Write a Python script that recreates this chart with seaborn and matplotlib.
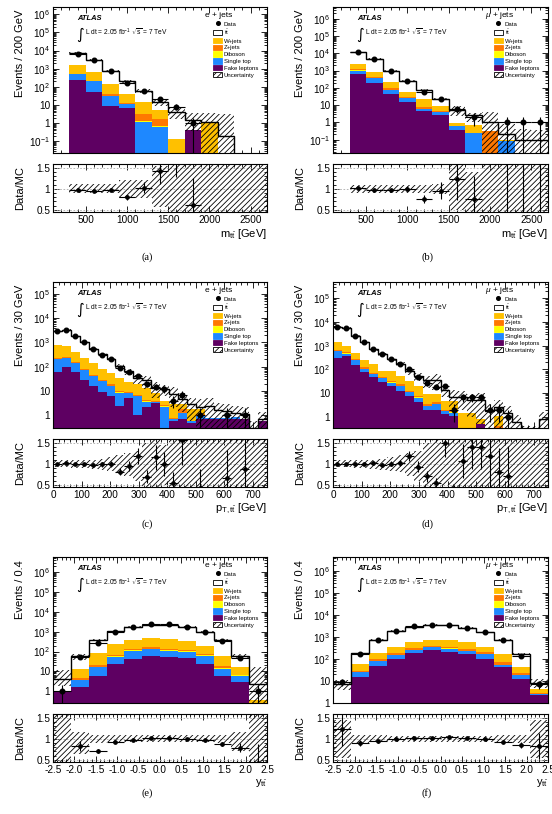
import numpy as np
import pandas as pd
import matplotlib
matplotlib.use("Agg")
import matplotlib.pyplot as plt
import matplotlib.ticker as mticker
from matplotlib.patches import Patch
from matplotlib.lines import Line2D
import seaborn as sns

sns.set_style("ticks")
plt.rcParams["font.family"] = ["Liberation Sans", "DejaVu Sans"]
plt.rcParams["mathtext.fontset"] = "custom"
plt.rcParams["mathtext.rm"] = "Liberation Sans"
plt.rcParams["mathtext.it"] = "Liberation Sans:italic"
plt.rcParams["mathtext.bf"] = "Liberation Sans:bold"
plt.rcParams["axes.edgecolor"] = "black"
plt.rcParams["axes.unicode_minus"] = False
plt.rcParams["xtick.color"] = "black"
plt.rcParams["ytick.color"] = "black"
plt.rcParams["text.color"] = "black"
plt.rcParams["hatch.linewidth"] = 0.6

# ---------------- processes ----------------
PROCS = ["tt", "W+jets", "Z+jets", "Diboson", "Single top", "Fake leptons"]
PROC_LABELS = [r"t$\bar{\mathrm{t}}$", "W+jets", "Z+jets", "Diboson", "Single top", "Fake leptons"]
PROC_COLORS = ["#FFFFFF", "#FFC000", "#FF7800", "#FFFF00", "#1E88FF", "#5E0062"]

# ---------------- (a) e+jets, m_tt ----------------
a_edges = [300, 500, 700, 900, 1100, 1300, 1500, 1700, 1900, 2100, 2300, 2500, 2700]
a_tt = [5400, 2450, 600, 167, 46, 9.5, 3.9, 1.2, 0.1, 0.2, 0, 0]
a_wjets = [1170, 430, 112, 25, 11, 3.6, 0.14, 0, 1.1, 0, 0, 0]
a_zjets = [40, 15, 7, 2, 1.9, 1.0, 0, 0, 0, 0, 0, 0]
a_diboson = [5, 2, 0.5, 0.2, 0.1, 0.05, 0, 0, 0, 0, 0, 0]
a_stop = [255, 150, 22, 4.4, 1.2, 0.66, 0, 0, 0, 0, 0, 0]
a_fake = [230, 53, 9.2, 6.6, 0, 0, 0, 0.4, 0, 0, 0, 0]
a_data = [6890, 2945, 735, 164, 62, 21, 8, 1, 0, 0, 0, 0]
a_unc_up = [0.11, 0.11, 0.11, 0.22, 0.22, 0.55, 0.85, 1.2, 1.9, 16.0, 99, 99]
a_unc_dn = [0.11, 0.11, 0.11, 0.22, 0.22, 0.42, 0.6, 0.78, 1.0, 1.0, 1.0, 1.0]

# ---------------- (b) mu+jets, m_tt ----------------
b_edges = [300, 500, 700, 900, 1100, 1300, 1500, 1700, 1900, 2100, 2300, 2500, 2700]
b_tt = [8600, 3630, 770, 196, 53, 14.6, 4.0, 1.9, 0.7, 0.12, 0.1, 0.09]
b_wjets = [1240, 446, 138, 24.7, 15.6, 4.05, 0.27, 0.49, 0, 0.01, 0, 0]
b_zjets = [150, 60, 15, 4, 1.2, 0.5, 0.05, 0, 0.3, 0, 0, 0]
b_diboson = [10, 4, 1, 0.3, 0.1, 0.05, 0, 0, 0, 0, 0, 0]
b_stop = [360, 175, 31, 9, 1.4, 1.0, 0.23, 0.24, 0, 0.08, 0, 0]
b_fake = [640, 185, 45, 16, 4.7, 2.8, 0.35, 0, 0, 0, 0, 0]
b_data = [11200, 4400, 960, 250, 58, 22, 6, 2, 0, 1, 1, 1]
b_unc_up = [0.1, 0.1, 0.1, 0.1, 0.1, 0.12, 0.7, 0.4, 3.0, 3.0, 3.0, 3.0]
b_unc_dn = [0.1, 0.1, 0.1, 0.1, 0.1, 0.12, 0.5, 0.6, 1.0, 1.0, 1.0, 1.0]

# ---------------- (c) e+jets, pT_tt ----------------
c_edges = list(np.arange(0, 751, 31.25))
c_tt = [2350, 2550, 1380, 770, 395, 236, 151, 77, 40, 15, 14, 5, 8, 4.6, 1.7, 1.2, 0.4, 1.7, 0.8, 0.7, 0.35, 0.45, 0.3, 0.1]
c_wjets = [520, 450, 270, 150, 90, 55, 35, 25, 15, 12, 9, 4, 1.5, 2, 1, 1.2, 0.8, 0, 0, 0, 0, 0, 0, 0]
c_zjets = [20, 20, 12, 8, 5, 3, 2.5, 1.5, 1, 0.5, 0.4, 0.3, 0.2, 0.1, 0.6, 0, 0.2, 0, 0, 0, 0, 0, 0, 0]
c_diboson = [3, 3, 2, 1, 0.6, 0.4, 0.3, 0.2, 0.1, 0.1, 0.1, 0.05, 0.05, 0, 0, 0, 0, 0, 0, 0, 0, 0, 0, 0]
c_stop = [150, 130, 80, 45, 25, 17, 10, 6, 3, 5, 1.5, 0.3, 2, 0.1, 0.5, 0.1, 0.2, 0.1, 0.1, 0.1, 0.15, 0, 0, 0]
c_fake = [60, 95, 60, 28, 16, 9, 6, 2.5, 5, 1.0, 2.2, 3.3, 0.3, 0.6, 0.7, 0.5, 0.7, 0.7, 0.7, 0.7, 0.7, 0.7, 0, 0.6]
c_data = [3100, 3300, 1780, 1000, 520, 317, 205, 91, 61, 40, 19, 15, 12, 4, 7, 0, 1, 0, 0, 1, 0, 1, 0, 0]
c_unc_up = [0.08, 0.08, 0.09, 0.1, 0.1, 0.12, 0.15, 0.2, 0.25, 0.3, 0.5, 0.9, 0.45, 1.0, 0.9, 0.8, 1.0, 1.0, 1.0, 1.0, 1.0, 1.0, 1.0, 1.0]
c_unc_dn = [0.08, 0.08, 0.09, 0.1, 0.12, 0.15, 0.18, 0.2, 0.3, 0.4, 0.55, 0.6, 0.5, 0.7, 0.7, 0.8, 0.9, 0.9, 0.9, 0.9, 0.9, 0.9, 0.9, 0.9]

# ---------------- (d) mu+jets, pT_tt ----------------
d_edges = list(np.arange(0, 751, 31.25))
d_tt = [4620, 4530, 2200, 1160, 542, 365, 180, 117, 51, 34, 28, 26, 8.7, 2.3, 5.1, 3.5, 4.2, 1.7, 1.4, 1.4, 0.6, 0.2, 0.2, 0.8]
d_wjets = [825, 445, 227, 116, 89, 40.5, 57.6, 31.7, 21, 12.4, 5.4, 4.9, 2.55, 2.65, 1.5, 1.5, 0.3, 0, 0.7, 0, 0, 0, 0, 0]
d_zjets = [60, 50, 30, 15, 8, 5, 4, 3, 2, 1, 0.6, 0.6, 0.3, 0.5, 0, 0, 0, 0, 0.4, 0, 0, 0, 0, 0]
d_diboson = [5, 5, 3, 2, 1, 0.5, 0.4, 0.3, 0.2, 0.1, 0.1, 0.1, 0.05, 0.05, 0, 0, 0, 0, 0, 0, 0, 0, 0, 0]
d_stop = [275, 110, 80, 30, 18, 13, 8, 7.4, 3, 2.1, 0.9, 1.5, 0.4, 0.4, 0, 0, 0, 0, 0, 0, 0, 0, 0, 0]
d_fake = [315, 360, 160, 77, 47, 31, 20, 12.6, 7.7, 4.4, 2, 1.9, 1.3, 1.1, 0, 0, 0.5, 0, 0, 0, 0, 0, 0, 0]
d_data = [6100, 5500, 2700, 1400, 720, 440, 270, 175, 100, 50, 26, 19, 20, 2, 7, 7, 7, 2, 2, 1, 0, 0, 0, 0]
d_unc_up = [0.08, 0.08, 0.09, 0.1, 0.1, 0.12, 0.15, 0.2, 0.25, 0.3, 0.5, 0.9, 0.45, 1.0, 0.9, 0.8, 1.0, 1.0, 1.0, 1.0, 1.0, 1.0, 1.0, 1.0]
d_unc_dn = [0.08, 0.08, 0.09, 0.1, 0.12, 0.15, 0.18, 0.2, 0.3, 0.4, 0.55, 0.6, 0.5, 0.7, 0.7, 0.8, 0.9, 0.9, 0.9, 0.9, 0.9, 0.9, 0.9, 0.9]

# ---------------- (e) e+jets, y_tt ----------------
e_edges = list(np.linspace(-2.5, 2.5, 13))
e_tt = [3.1, 50, 307, 815, 1410, 1830, 1850, 1370, 800, 337, 47, 1.95]
e_wjets = [0, 8.5, 61.5, 175.5, 255, 305, 310, 209, 124.5, 44.5, 9, 0.1]
e_zjets = [0, 0.7, 5, 12, 20, 25, 24, 18, 11, 4, 0.7, 0.05]
e_diboson = [0, 0.1, 0.5, 1.5, 3, 4, 4, 3, 1.5, 0.5, 0.1, 0]
e_stop = [0, 2.0, 9.8, 32, 69, 73, 60, 52, 39, 8.3, 3.2, 0.1]
e_fake = [0.9, 1.7, 6.2, 24, 43, 63, 52, 48, 24, 5.7, 3, 0.1]
e_data = [1, 52, 280, 990, 1760, 2350, 2350, 1680, 960, 350, 50, 1]
e_unc_up = [1.8, 0.15, 0.1, 0.08, 0.08, 0.08, 0.08, 0.08, 0.08, 0.1, 0.15, 6.0]
e_unc_dn = [0.56, 0.37, 0.1, 0.08, 0.08, 0.08, 0.08, 0.08, 0.08, 0.1, 0.3, 1.0]

# ---------------- (f) mu+jets, y_tt ----------------
f_edges = list(np.linspace(-2.5, 2.5, 13))
f_tt = [7.3, 121, 573, 1585, 2336, 2740, 2740, 1986, 1265, 590, 128, 4.1]
f_wjets = [0, 29.7, 87, 175, 308, 360, 360, 325, 163, 99, 18.7, 1.35]
f_zjets = [0, 4, 15, 30, 45, 55, 55, 45, 30, 15, 4, 0.3]
f_diboson = [0, 0.3, 1, 2, 4, 5, 5, 4, 2, 1, 0.3, 0.05]
f_stop = [0, 9.2, 34, 58, 70, 83, 85, 70, 70, 13, 6.7, 0.4]
f_fake = [0, 15.8, 50, 100, 187, 257, 215, 170, 100, 42, 12.3, 2.2]
f_data = [9, 162, 715, 1950, 3040, 3600, 3570, 2680, 1630, 707, 145, 7]
f_unc_up = [0.45, 0.1, 0.08, 0.07, 0.07, 0.07, 0.07, 0.07, 0.07, 0.08, 0.1, 0.45]
f_unc_dn = [0.45, 0.1, 0.08, 0.07, 0.07, 0.07, 0.07, 0.07, 0.07, 0.08, 0.1, 0.45]

PANELS = [
    dict(edges=a_edges, comps=[a_tt, a_wjets, a_zjets, a_diboson, a_stop, a_fake], data=a_data,
         up=a_unc_up, dn=a_unc_dn, ylim=(0.023, 2.5e6), xlim=(100, 2700), xmaj=500, xmin=100,
         chan="e + jets", ylab="Events / 200 GeV", xlab=r"m$_{\mathrm{t\bar{t}}}$ [GeV]", cap="(a)"),
    dict(edges=b_edges, comps=[b_tt, b_wjets, b_zjets, b_diboson, b_stop, b_fake], data=b_data,
         up=b_unc_up, dn=b_unc_dn, ylim=(0.017, 4.7e6), xlim=(100, 2700), xmaj=500, xmin=100,
         chan=r"$\mu$ + jets", ylab="Events / 200 GeV", xlab=r"m$_{\mathrm{t\bar{t}}}$ [GeV]", cap="(b)"),
    dict(edges=c_edges, comps=[c_tt, c_wjets, c_zjets, c_diboson, c_stop, c_fake], data=c_data,
         up=c_unc_up, dn=c_unc_dn, ylim=(0.3, 3.1e5), xlim=(0, 750), xmaj=100, xmin=20,
         chan="e + jets", ylab="Events / 30 GeV", xlab=r"p$_{\mathrm{T,t\bar{t}}}$ [GeV]", cap="(c)"),
    dict(edges=d_edges, comps=[d_tt, d_wjets, d_zjets, d_diboson, d_stop, d_fake], data=d_data,
         up=d_unc_up, dn=d_unc_dn, ylim=(0.34, 4.9e5), xlim=(0, 750), xmaj=100, xmin=20,
         chan=r"$\mu$ + jets", ylab="Events / 30 GeV", xlab=r"p$_{\mathrm{T,t\bar{t}}}$ [GeV]", cap="(d)"),
    dict(edges=e_edges, comps=[e_tt, e_wjets, e_zjets, e_diboson, e_stop, e_fake], data=e_data,
         up=e_unc_up, dn=e_unc_dn, ylim=(0.26, 5.7e6), xlim=(-2.5, 2.5), xmaj=0.5, xmin=0.1,
         chan="e + jets", ylab="Events / 0.4", xlab=r"y$_{\mathrm{t\bar{t}}}$", cap="(e)"),
    dict(edges=f_edges, comps=[f_tt, f_wjets, f_zjets, f_diboson, f_stop, f_fake], data=f_data,
         up=f_unc_up, dn=f_unc_dn, ylim=(1.0, 4.4e6), xlim=(-2.5, 2.5), xmaj=0.5, xmin=0.1,
         chan=r"$\mu$ + jets", ylab="Events / 0.4", xlab=r"y$_{\mathrm{t\bar{t}}}$", cap="(f)"),
]

W, H = 552, 814
COLS = [(53, 267), (333, 548)]
ROW_STEP = 275
HATCH = "//////"
CAP_Y = [257, 524, 793]


def add_ax(fig, l, t, r, b):
    return fig.add_axes([l / W, 1 - b / H, (r - l) / W, (b - t) / H])


def log_label(n):
    if n == 0:
        return "1"
    if n == 1:
        return "10"
    return r"$10^{%d}$" % n


def style_axis(a, p):
    a.set_xlim(p["xlim"])
    a.xaxis.set_major_locator(mticker.MultipleLocator(p["xmaj"]))
    a.xaxis.set_minor_locator(mticker.MultipleLocator(p["xmin"]))
    a.tick_params(which="both", direction="in", top=True, right=True, labelsize=7.2, width=0.6, pad=2)
    a.tick_params(which="major", length=4.5)
    a.tick_params(which="minor", length=2.3)
    for s in a.spines.values():
        s.set_linewidth(0.8)
    a.set_xlabel("")
    a.set_ylabel("")


def draw_panel(fig, idx, p):
    col, row = idx % 2, idx // 2
    l, r = COLS[col]
    off = ROW_STEP * row
    ax = add_ax(fig, l, 7 + off, r, 153 + off)
    axr = add_ax(fig, l, 163.5 + off, r, 212 + off)

    edges = np.asarray(p["edges"], float)
    centers = 0.5 * (edges[1:] + edges[:-1])
    widths = np.diff(edges)
    comps = [np.asarray(c, float) for c in p["comps"]]
    total = np.sum(comps, axis=0)
    data = np.asarray(p["data"], float)
    up = np.asarray(p["up"], float)
    dn = np.asarray(p["dn"], float)

    frames = [pd.DataFrame({"x": centers, "w": c, "proc": name}) for name, c in zip(PROCS, comps)]
    df = pd.concat(frames, ignore_index=True)
    sns.histplot(data=df, x="x", weights="w", hue="proc", hue_order=PROCS,
                 palette=dict(zip(PROCS, PROC_COLORS)), bins=[float(v) for v in edges],
                 multiple="stack", element="step", fill=True, alpha=1, linewidth=0,
                 legend=False, ax=ax)
    ax.set_yscale("log")
    ax.stairs(total, edges, color="black", lw=1.0, zorder=3, baseline=None)

    lo = np.maximum(total * (1 - dn), p["ylim"][0] * 0.3)
    hi = total * (1 + up)
    hmask = total > 0
    ax.bar(centers[hmask], (hi - lo)[hmask], bottom=lo[hmask], width=widths[hmask], fill=False,
           hatch=HATCH, lw=0, edgecolor="black", zorder=4)

    m = data > 0
    ax.errorbar(centers[m], data[m], yerr=np.sqrt(data[m]), xerr=widths[m] / 2, fmt="o",
                color="black", ms=3.3, elinewidth=0.8, capsize=0, zorder=6)

    style_axis(ax, p)
    ax.set_ylim(p["ylim"])
    lo_e = int(np.ceil(np.log10(p["ylim"][0]) - 1e-9))
    hi_e = int(np.floor(np.log10(p["ylim"][1]) + 1e-9))
    decades = list(range(lo_e, hi_e + 1))
    ax.yaxis.set_major_locator(mticker.FixedLocator([10.0 ** n for n in decades]))
    ax.yaxis.set_major_formatter(mticker.FixedFormatter([log_label(n) for n in decades]))
    minors = [k * 10.0 ** n for n in range(lo_e - 1, hi_e + 1) for k in range(2, 10)
              if p["ylim"][0] < k * 10.0 ** n < p["ylim"][1]]
    ax.yaxis.set_minor_locator(mticker.FixedLocator(minors))
    ax.yaxis.set_minor_formatter(mticker.NullFormatter())
    ax.tick_params(labelbottom=False)

    # ratio panel
    rb_lo = np.where(total > 0, 1 - dn, 0.0)
    rb_hi = np.where(total > 0, 1 + up, 3.0)
    axr.bar(centers, rb_hi - rb_lo, bottom=rb_lo, width=widths, fill=False, hatch=HATCH,
            lw=0, edgecolor="black", zorder=2)
    for yv in (0.5, 1.0, 1.5):
        axr.axhline(yv, color="#aaaaaa", ls=(0, (2, 2)), lw=0.6, zorder=1)
    rm = (data > 0) & (total > 0)
    ratio = data[rm] / total[rm]
    rerr = np.sqrt(data[rm]) / total[rm]
    axr.errorbar(centers[rm], ratio, yerr=rerr, xerr=widths[rm] / 2, fmt="o", color="black",
                 ms=2.4, elinewidth=0.8, capsize=0, zorder=5)
    style_axis(axr, p)
    axr.set_ylim(0.45, 1.6)
    axr.yaxis.set_major_locator(mticker.FixedLocator([0.5, 1.0, 1.5]))
    axr.yaxis.set_major_formatter(mticker.FixedFormatter(["0.5", "1", "1.5"]))
    axr.yaxis.set_minor_locator(mticker.FixedLocator([0.5 + 0.1 * k for k in range(11) if k % 5]))

    # texts
    ax.text(0.112, 0.922, "ATLAS", transform=ax.transAxes, fontsize=5.4, fontweight="bold",
            fontstyle="italic", va="center", ha="left")
    ax.text(0.11, 0.815, "\u222B", transform=ax.transAxes, fontsize=10.5, va="center", ha="left",
            family=["DejaVu Sans"])
    ax.text(0.15, 0.825, r"L dt = 2.05 fb$^{-1}$ $\sqrt{\mathrm{s}}$ = 7 TeV", transform=ax.transAxes,
            fontsize=4.8, va="center", ha="left")
    ax.text(0.775, 0.945, p["chan"], transform=ax.transAxes, fontsize=6, va="center", ha="center")

    handles = [Line2D([], [], marker="o", color="black", ls="none", ms=2.6)]
    for lab, colr in zip(PROC_LABELS, PROC_COLORS):
        handles.append(Patch(facecolor=colr, edgecolor="black" if colr == "#FFFFFF" else colr, lw=0.6))
    handles.append(Patch(facecolor="white", edgecolor="black", hatch="//////", lw=0.6))
    labels = ["Data"] + PROC_LABELS + ["Uncertainty"]
    ax.legend(handles, labels, loc="upper left", bbox_to_anchor=(0.748, 0.905), fontsize=4.3,
              frameon=False, handlelength=1.5, handleheight=1.0, handletextpad=0.3,
              labelspacing=0.18, borderpad=0, borderaxespad=0)

    # axis titles
    cx = l - 33
    fig.text(cx / W, 1 - (10 + off) / H, p["ylab"], rotation=90, ha="center", va="top", fontsize=8)
    fig.text(cx / W, 1 - (188 + off) / H, "Data/MC", rotation=90, ha="center", va="center", fontsize=8)
    fig.text(r / W, 1 - (227 + off) / H, p["xlab"], ha="right", va="top", fontsize=8)
    fig.text((l + 94) / W, 1 - CAP_Y[row] / H, p["cap"], ha="center", va="center", fontsize=7.5,
             family=["Liberation Serif", "DejaVu Serif"])


fig = plt.figure(figsize=(W / 100, H / 100), dpi=100, facecolor="white")
for i, p in enumerate(PANELS):
    draw_panel(fig, i, p)
fig.savefig("out.png", dpi=100, facecolor="white")
